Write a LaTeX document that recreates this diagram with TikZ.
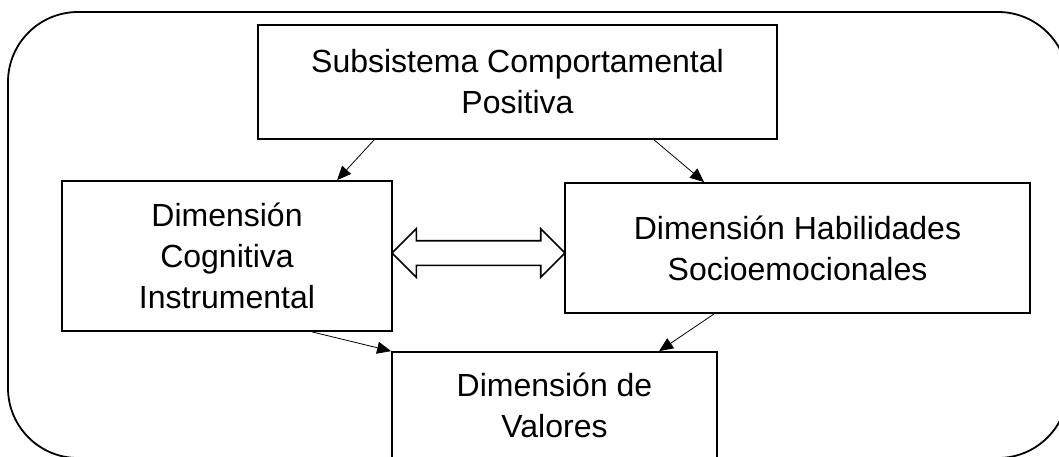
\documentclass[tikz,border=0pt]{standalone}
\usepackage{fontspec}
\setmainfont{Liberation Sans}
\usepackage{tikz}
\usetikzlibrary{arrows.meta, shapes, positioning}
\tikzset{dimbox/.style={rectangle, draw=black, line width=1.8pt, inner sep=0pt, align=center, font=\fontsize{32pt}{41pt}\selectfont}}

\begin{document}
\begin{tikzpicture}[
        line join=miter,
        dimbox/.style={rectangle, draw=black, line width=1.8pt, inner sep=0pt, align=center, font=\fontsize{32pt}{41pt}\selectfont},
        flowarrow/.style={-{Triangle[length=14pt, width=12pt]}, line width=0.8pt},
        bothwayarrow/.style={double arrow, draw=black, line width=1.6pt, inner sep=11.5pt, double arrow head extend=12pt}
    ]
        % Frame
        \useasboundingbox (0pt, 0pt) rectangle (1059pt, 456pt);
        \clip (0pt, 0pt) rectangle (1059pt, 456pt);
        \draw[line width=1.8pt, rounded corners=70pt] (8pt, -2pt) rectangle (1068pt, 444pt);
        % Boxes
        \node[dimbox, minimum width=519pt, minimum height=114pt] (subsistema) at (517.5pt, 374pt) {Subsistema Comportamental\\Positiva};
        \node[dimbox, minimum width=330pt, minimum height=150pt] (cognitiva) at (227pt, 200pt) {Dimensión\\Cognitiva\\Instrumental};
        \node[dimbox, minimum width=465pt, minimum height=130pt] (habilidades) at (797.5pt, 208pt) {Dimensión Habilidades\\Socioemocionales};
        \node[dimbox, minimum width=325pt, minimum height=106pt] (valores) at (554.5pt, 51pt) {Dimensión de\\Valores};
        % Double arrow
        \node[bothwayarrow, minimum height=173pt] (intercambio) at (478.5pt, 203pt) {};
        % Arrows
        \draw[flowarrow] ([xshift=117pt]subsistema.south west) -- ([xshift=276pt]cognitiva.north west);
        \draw[flowarrow] ([xshift=397pt]subsistema.south west) -- ([xshift=140pt]habilidades.north west);
        \draw[flowarrow] ([xshift=251pt]cognitiva.south west) -- (valores.north west);
        \draw[flowarrow] ([xshift=150pt]habilidades.south west) -- ([xshift=268pt]valores.north west);
    \end{tikzpicture}
\end{document}
